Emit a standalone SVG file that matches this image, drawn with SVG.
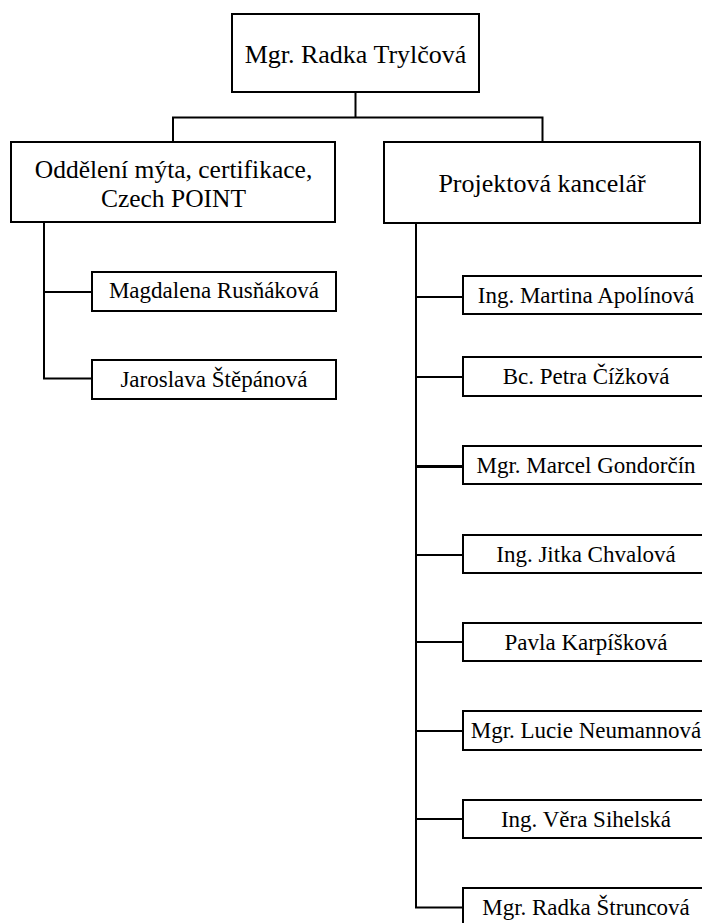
<svg xmlns="http://www.w3.org/2000/svg" width="702" height="923" viewBox="0 0 702 923">
<style>
.box{fill:#fff;stroke:#000;stroke-width:2}
.t{font-family:"Liberation Serif","Times New Roman",serif;fill:#000;text-anchor:middle}
.big{font-size:26px}
.mid{font-size:25.5px}
.small{font-size:23px}
.c{fill:none;stroke:#000;stroke-width:2}
</style>
<rect width="702" height="923" fill="#fff"/>
<g id="connectors">
<path class="c" d="M355.5 92V117.5M173 117.5H542.5M173 116.5V142M542.5 116.5V142"/>
<path class="c" d="M44 222V378.5M43 292H92M43 378.5H92"/>
<path class="c" d="M416 223V907.5M415 297H463M415 377H463M415 555H463M415 642H463M415 731H463M415 819H463M415 907.5H463"/>
<path class="c" style="stroke-width:3" d="M415 466.5H463"/>
</g>
<g id="n-top"><rect class="box" x="232" y="14" width="247" height="78"/><text class="t big" x="355.5" y="63">Mgr. Radka Trylčová</text></g>
<g id="n-odd"><rect class="box" x="11" y="142" width="324" height="80"/><text class="t mid" x="173.5" y="177.5">Oddělení mýta, certifikace,</text><text class="t mid" x="173.5" y="206.5">Czech POINT</text></g>
<g id="n-proj"><rect class="box" x="384" y="142" width="316" height="81"/><text class="t big" x="542" y="192">Projektová kancelář</text></g>
<g id="n-mag"><rect class="box" x="92" y="272" width="244" height="39"/><text class="t small" x="214" y="298">Magdalena Rusňáková</text></g>
<g id="n-jar"><rect class="box" x="92" y="360" width="244" height="39"/><text class="t small" x="214" y="387">Jaroslava Štěpánová</text></g>
<g id="n-apo"><rect class="box" x="463" y="276" width="246" height="38"/><text class="t small" x="586" y="303">Ing. Martina Apolínová</text></g>
<g id="n-ciz"><rect class="box" x="463" y="357" width="246" height="39"/><text class="t small" x="586" y="384">Bc. Petra Čížková</text></g>
<g id="n-gon"><rect class="box" x="463" y="446" width="246" height="38"/><text class="t small" x="586" y="473">Mgr. Marcel Gondorčín</text></g>
<g id="n-chv"><rect class="box" x="463" y="535" width="246" height="38"/><text class="t small" x="586" y="562">Ing. Jitka Chvalová</text></g>
<g id="n-kar"><rect class="box" x="463" y="623" width="246" height="38"/><text class="t small" x="586" y="650">Pavla Karpíšková</text></g>
<g id="n-neu"><rect class="box" x="463" y="711" width="246" height="39"/><text class="t small" x="586" y="738">Mgr. Lucie Neumannová</text></g>
<g id="n-sih"><rect class="box" x="463" y="800" width="246" height="38"/><text class="t small" x="586" y="827">Ing. Věra Sihelská</text></g>
<g id="n-str"><rect class="box" x="463" y="888" width="246" height="38"/><text class="t small" x="586" y="915">Mgr. Radka Štruncová</text></g>
</svg>
